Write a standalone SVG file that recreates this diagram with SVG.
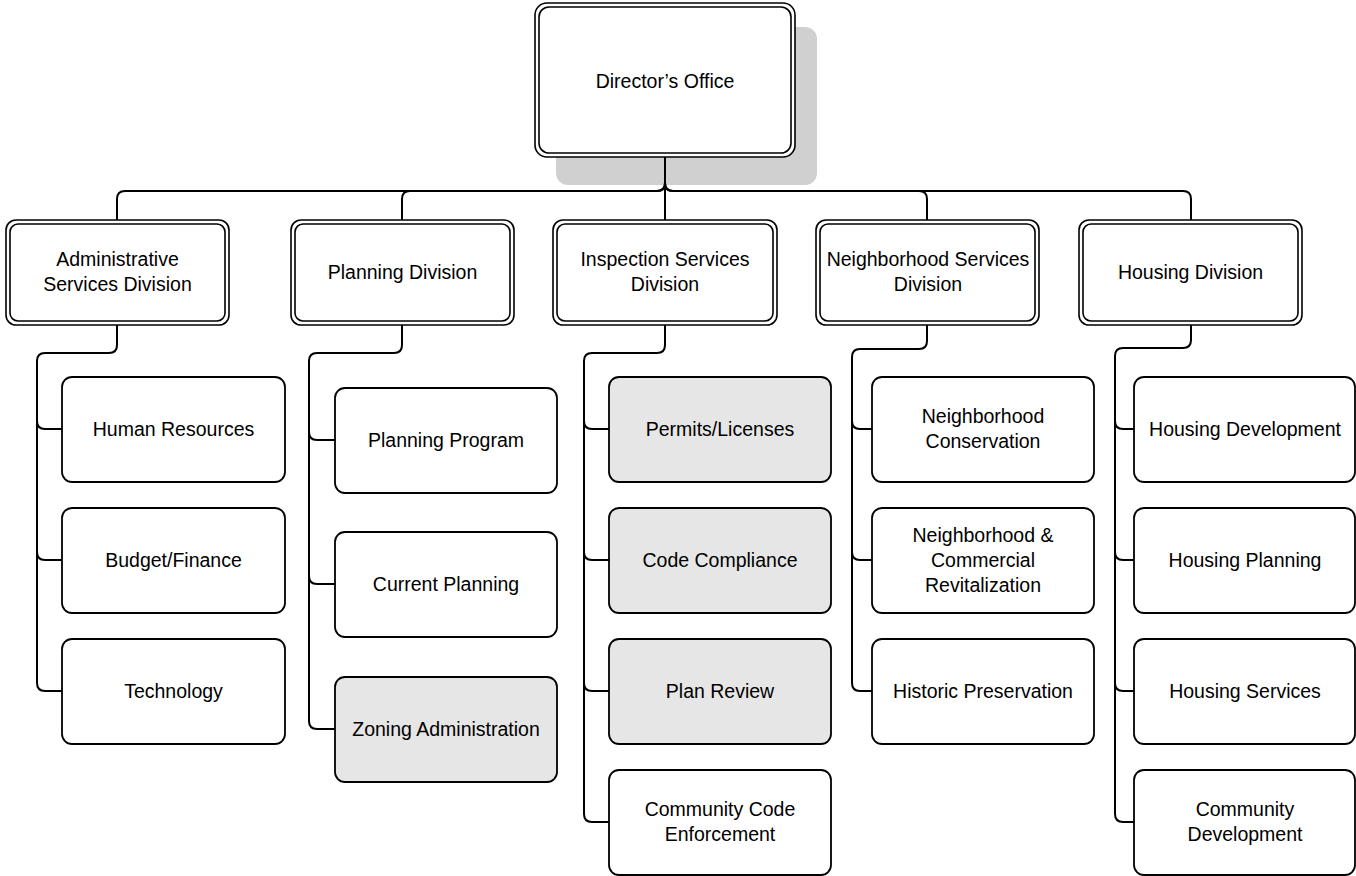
<svg xmlns="http://www.w3.org/2000/svg" width="1356" height="876" viewBox="0 0 1356 876">
<style>
.t{font-family:"Liberation Sans",Arial,sans-serif;font-size:19.5px;fill:#000;text-anchor:middle}
.c{fill:none;stroke:#000;stroke-width:2}
.b{fill:#fff;stroke:#000;stroke-width:1.8}
.g{fill:#e6e6e6;stroke:#000;stroke-width:1.8}
.o{fill:#fff;stroke:#000;stroke-width:1.6}
.i{fill:none;stroke:#000;stroke-width:1.6}
</style>
<rect width="1356" height="876" fill="#fff"/>
<g id="director">
<rect x="556" y="27" width="261" height="158" rx="12" fill="#d0d0d0"/>
<rect class="o" x="535" y="3" width="260" height="154" rx="12"/>
<rect class="i" x="539" y="7" width="252" height="146" rx="10"/>
<text class="t" x="665" y="88">Director’s Office</text>
</g>
<g id="connectors">
<path class="c" d="M665,157 V183 Q665,191 657,191 H125 Q117,191 117,199 V220"/>
<path class="c" d="M665,157 V183 Q665,191 657,191 H410 Q402,191 402,199 V220"/>
<path class="c" d="M665,157 V221"/>
<path class="c" d="M665,157 V183 Q665,191 673,191 H919 Q927,191 927,199 V220"/>
<path class="c" d="M665,157 V183 Q665,191 673,191 H1183 Q1191,191 1191,199 V220"/>
<path class="c" d="M117,325 V345 Q117,353 109,353 H45 Q37,353 37,361 V421 Q37,429 45,429 H62"/>
<path class="c" d="M37,421 V552 Q37,560 45,560 H62"/>
<path class="c" d="M37,552 V683 Q37,691 45,691 H62"/>
<path class="c" d="M402,325 V345 Q402,353 394,353 H317 Q309,353 309,361 V432 Q309,440 317,440 H335"/>
<path class="c" d="M309,432 V576 Q309,584 317,584 H335"/>
<path class="c" d="M309,576 V721 Q309,729 317,729 H335"/>
<path class="c" d="M665,325 V345 Q665,353 657,353 H592 Q584,353 584,361 V421 Q584,429 592,429 H609"/>
<path class="c" d="M584,421 V552 Q584,560 592,560 H609"/>
<path class="c" d="M584,552 V683 Q584,691 592,691 H609"/>
<path class="c" d="M584,683 V814 Q584,822 592,822 H609"/>
<path class="c" d="M927,325 V341 Q927,349 919,349 H860 Q852,349 852,357 V421 Q852,429 860,429 H872"/>
<path class="c" d="M852,421 V552 Q852,560 860,560 H872"/>
<path class="c" d="M852,552 V683 Q852,691 860,691 H872"/>
<path class="c" d="M1191,325 V340 Q1191,348 1183,348 H1123 Q1115,348 1115,356 V421 Q1115,429 1123,429 H1134"/>
<path class="c" d="M1115,421 V552 Q1115,560 1123,560 H1134"/>
<path class="c" d="M1115,552 V683 Q1115,691 1123,691 H1134"/>
<path class="c" d="M1115,683 V814 Q1115,822 1123,822 H1134"/>
</g>
<g id="admin-div">
<rect class="o" x="6" y="220" width="223" height="105" rx="10"/>
<rect class="i" x="10" y="224" width="215" height="97" rx="8"/>
<text class="t" x="117.5" y="266">Administrative</text>
<text class="t" x="117.5" y="291">Services Division</text>
</g>
<g id="planning-div">
<rect class="o" x="291" y="220" width="223" height="105" rx="10"/>
<rect class="i" x="295" y="224" width="215" height="97" rx="8"/>
<text class="t" x="402.5" y="279">Planning Division</text>
</g>
<g id="inspection-div">
<rect class="o" x="553" y="220" width="224" height="105" rx="10"/>
<rect class="i" x="557" y="224" width="216" height="97" rx="8"/>
<text class="t" x="665" y="266">Inspection Services</text>
<text class="t" x="665" y="291">Division</text>
</g>
<g id="neighborhood-div">
<rect class="o" x="816" y="220" width="223" height="105" rx="10"/>
<rect class="i" x="820" y="224" width="215" height="97" rx="8"/>
<text class="t" x="928" y="266">Neighborhood Services</text>
<text class="t" x="928" y="291">Division</text>
</g>
<g id="housing-div">
<rect class="o" x="1079" y="220" width="223" height="105" rx="10"/>
<rect class="i" x="1083" y="224" width="215" height="97" rx="8"/>
<text class="t" x="1190.5" y="279">Housing Division</text>
</g>
<g id="human-resources">
<rect class="b" x="62" y="377" width="223" height="105" rx="10"/>
<text class="t" x="173.5" y="436">Human Resources</text>
</g>
<g id="budget-finance">
<rect class="b" x="62" y="508" width="223" height="105" rx="10"/>
<text class="t" x="173.5" y="567">Budget/Finance</text>
</g>
<g id="technology">
<rect class="b" x="62" y="639" width="223" height="105" rx="10"/>
<text class="t" x="173.5" y="698">Technology</text>
</g>
<g id="planning-program">
<rect class="b" x="335" y="388" width="222" height="105" rx="10"/>
<text class="t" x="446" y="447">Planning Program</text>
</g>
<g id="current-planning">
<rect class="b" x="335" y="532" width="222" height="105" rx="10"/>
<text class="t" x="446" y="591">Current Planning</text>
</g>
<g id="zoning-administration">
<rect class="g" x="335" y="677" width="222" height="105" rx="10"/>
<text class="t" x="446" y="736">Zoning Administration</text>
</g>
<g id="permits-licenses">
<rect class="g" x="609" y="377" width="222" height="105" rx="10"/>
<text class="t" x="720" y="436">Permits/Licenses</text>
</g>
<g id="code-compliance">
<rect class="g" x="609" y="508" width="222" height="105" rx="10"/>
<text class="t" x="720" y="567">Code Compliance</text>
</g>
<g id="plan-review">
<rect class="g" x="609" y="639" width="222" height="105" rx="10"/>
<text class="t" x="720" y="698">Plan Review</text>
</g>
<g id="community-code-enforcement">
<rect class="b" x="609" y="770" width="222" height="105" rx="10"/>
<text class="t" x="720" y="816">Community Code</text>
<text class="t" x="720" y="841">Enforcement</text>
</g>
<g id="neighborhood-conservation">
<rect class="b" x="872" y="377" width="222" height="105" rx="10"/>
<text class="t" x="983" y="423">Neighborhood</text>
<text class="t" x="983" y="448">Conservation</text>
</g>
<g id="neighborhood-commercial">
<rect class="b" x="872" y="508" width="222" height="105" rx="10"/>
<text class="t" x="983" y="542">Neighborhood &amp;</text>
<text class="t" x="983" y="567">Commercial</text>
<text class="t" x="983" y="592">Revitalization</text>
</g>
<g id="historic-preservation">
<rect class="b" x="872" y="639" width="222" height="105" rx="10"/>
<text class="t" x="983" y="698">Historic Preservation</text>
</g>
<g id="housing-development">
<rect class="b" x="1134" y="377" width="221" height="105" rx="10"/>
<text class="t" x="1245" y="436">Housing Development</text>
</g>
<g id="housing-planning">
<rect class="b" x="1134" y="508" width="221" height="105" rx="10"/>
<text class="t" x="1245" y="567">Housing Planning</text>
</g>
<g id="housing-services">
<rect class="b" x="1134" y="639" width="221" height="105" rx="10"/>
<text class="t" x="1245" y="698">Housing Services</text>
</g>
<g id="community-development">
<rect class="b" x="1134" y="770" width="221" height="105" rx="10"/>
<text class="t" x="1245" y="816">Community</text>
<text class="t" x="1245" y="841">Development</text>
</g>
</svg>
